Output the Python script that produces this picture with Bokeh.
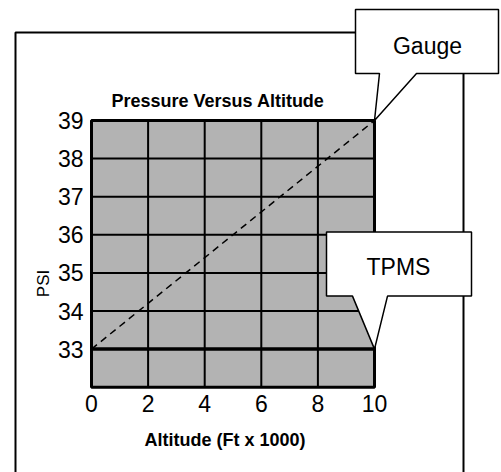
import math
from bokeh.plotting import figure
from bokeh.models import Range1d, FixedTicker, PolyAnnotation, Label
from bokeh.embed import file_html
from bokeh.resources import INLINE

# ---- data ----
altitude = [0, 10]          # Ft x 1000
gauge_psi = [33, 39]
tpms_psi = [33, 33]
x_ticks = [0, 2, 4, 6, 8, 10]
y_ticks = [33, 34, 35, 36, 37, 38, 39]
y_floor = 32
title_text = "Pressure Versus Altitude"
x_label = "Altitude (Ft x 1000)"
y_label = "PSI"
gauge_name = "Gauge"
tpms_name = "TPMS"

# ---- layout (pixels) ----
W, H = 501, 472
X_ORIGIN_PX = 91.0      # pixel of x = 0
X_SCALE = 28.3          # px per unit
Y_FLOOR_PX = 386.7      # pixel of y = 32
Y_SCALE = 38.1          # px per unit
FONT = "Liberation Sans"


def px2x(px):
    return x_ticks[0] + (px - X_ORIGIN_PX) / X_SCALE


def py2y(py):
    return y_floor + (Y_FLOOR_PX - py) / Y_SCALE


def ux(px):
    return px / X_SCALE


def uy(px):
    return px / Y_SCALE


p = figure(width=W, height=H,
           x_range=Range1d(px2x(0), px2x(W)), y_range=Range1d(py2y(H), py2y(0)),
           output_backend="svg", toolbar_location=None, title_location=None,
           min_border_left=0, min_border_right=0, min_border_top=0, min_border_bottom=0)
p.outline_line_color = None
p.background_fill_color = "white"
p.border_fill_color = "white"
p.xgrid.visible = False
p.ygrid.visible = False

x_lo, x_hi = x_ticks[0], x_ticks[-1]
y_lo, y_hi = y_floor, y_ticks[-1]

# plot box
p.quad(left=[x_lo], right=[x_hi], bottom=[y_lo], top=[y_hi],
       fill_color="#b3b3b3", line_color=None)
p.segment(x0=x_ticks, y0=[y_lo] * len(x_ticks), x1=x_ticks, y1=[y_hi] * len(x_ticks),
          line_color="black", line_width=2)
p.segment(x0=[x_lo] * len(y_ticks), y0=y_ticks, x1=[x_hi] * len(y_ticks), y1=y_ticks,
          line_color="black", line_width=2)
p.quad(left=[x_lo], right=[x_hi], bottom=[y_lo], top=[y_hi],
       fill_color=None, line_color="black", line_width=3)

# series
p.line(altitude, gauge_psi, line_color="black", line_width=1.5, line_dash="7 5")
p.line(altitude, tpms_psi, line_color="black", line_width=3.5)

# axes
p.xaxis.fixed_location = y_lo
p.yaxis.fixed_location = x_lo
p.xaxis.ticker = FixedTicker(ticks=x_ticks)
p.yaxis.ticker = FixedTicker(ticks=y_ticks)
for ax in (p.xaxis, p.yaxis):
    ax.axis_line_color = None
    ax.major_tick_line_color = None
    ax.minor_tick_line_color = None
    ax.major_tick_out = 0
    ax.major_tick_in = 0
    ax.minor_tick_out = 0
    ax.major_label_text_font = FONT
    ax.major_label_text_font_size = "23px"
    ax.major_label_text_color = "black"
p.xaxis.major_label_standoff = 8
p.yaxis.major_label_standoff = 8

# outer frame (bottom edge lies beyond the canvas)
ox = [px2x(15), px2x(15), px2x(463), px2x(463)]
oy = [py2y(520), py2y(32), py2y(32), py2y(520)]
p.add_layout(PolyAnnotation(xs=ox, ys=oy, fill_color=None, line_color="black",
                            line_alpha=1, line_width=2))


def callout(tx, ty, offs):
    xs = [tx + ux(a) for a, b in offs]
    ys = [ty + uy(b) for a, b in offs]
    return PolyAnnotation(xs=xs, ys=ys, fill_color="white", fill_alpha=1,
                          line_color="black", line_alpha=1, line_width=1.5)


gx, gy = altitude[-1], gauge_psi[-1]
p.add_layout(callout(gx, gy, [(0, 0), (42, 47), (124, 47), (124, 111), (-19, 111), (-19, 47), (5, 47)]))
tx, ty = altitude[-1], tpms_psi[-1]
p.add_layout(callout(tx, ty, [(0, 0), (13, 53), (97, 53), (97, 117), (-48, 117), (-48, 53), (-22, 53)]))

p.add_layout(Label(x=gx + ux(53), y=gy + uy(75), text=gauge_name, text_font=FONT,
                   text_font_size="23px", text_align="center", text_baseline="alphabetic",
                   text_color="black"))
p.add_layout(Label(x=tx + ux(24), y=ty + uy(82), text=tpms_name, text_font=FONT,
                   text_font_size="23px", text_align="center", text_baseline="alphabetic",
                   text_color="black"))

p.add_layout(Label(x=px2x(217.5), y=py2y(100), text=title_text, text_font=FONT,
                   text_font_size="18px", text_font_style="bold", text_align="center",
                   text_baseline="alphabetic", text_color="black"))
p.add_layout(Label(x=px2x(224.5), y=py2y(439), text=x_label, text_font=FONT,
                   text_font_size="18px", text_font_style="bold", text_align="center",
                   text_baseline="alphabetic", text_color="black"))
p.add_layout(Label(x=px2x(43), y=py2y(283), text=y_label, text_font=FONT,
                   text_font_size="17px", angle=math.pi / 2, text_align="center",
                   text_baseline="middle", text_color="black"))

open("out.html", "w").write(file_html(p, INLINE))
